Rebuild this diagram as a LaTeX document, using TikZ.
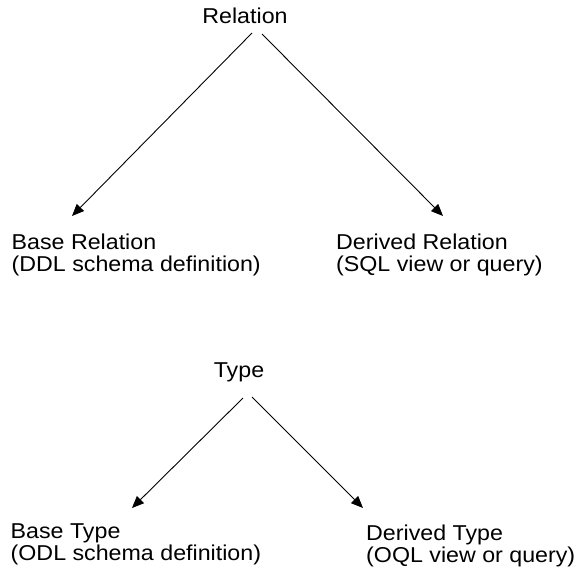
\documentclass[tikz,border=0pt]{standalone}
\usepackage{fontspec}
\setmainfont[FakeStretch=1.08]{Liberation Sans}
\usetikzlibrary{arrows.meta}
\tikzset{
  lbl/.style={inner sep=0pt, font=\fontsize{21.5}{22}\selectfont},
  arr/.style={line width=0.9pt, -{Triangle[length=12pt,width=10pt]}}
}
\begin{document}
\begin{tikzpicture}[x=1pt,y=-1pt]
\useasboundingbox[fill=white] (0,0) rectangle (575,578);
% Relation tree
\node[lbl, anchor=base] (rel) at (245,23.3) {Relation};
\node[lbl, anchor=base west] (br1) at (11.5,249) {Base Relation};
\node[lbl, anchor=base west] (br2) at (11.5,271) {(DDL schema definition)};
\node[lbl, anchor=base west] (dr1) at (336,249) {Derived Relation};
\node[lbl, anchor=base west] (dr2) at (336,271) {(SQL view or query)};
\coordinate (rl) at (252,33);
\coordinate (rr) at (262,34);
\coordinate (tbr) at (72,216);
\coordinate (tdr) at (443,216);
\draw[arr] (rl) -- (tbr);
\draw[arr] (rr) -- (tdr);
% Type tree
\node[lbl, anchor=base] (typ) at (239,377) {Type};
\node[lbl, anchor=base west] (bt1) at (10.5,538) {Base Type};
\node[lbl, anchor=base west] (bt2) at (10.5,560) {(ODL schema definition)};
\node[lbl, anchor=base west] (dt1) at (366,540) {Derived Type};
\node[lbl, anchor=base west] (dt2) at (366,562) {(OQL view or query)};
\coordinate (tl) at (243,398);
\coordinate (tr) at (252,397);
\coordinate (tbt) at (132,508);
\coordinate (tdt) at (363,508);
\draw[arr] (tl) -- (tbt);
\draw[arr] (tr) -- (tdt);
\end{tikzpicture}
\end{document}
